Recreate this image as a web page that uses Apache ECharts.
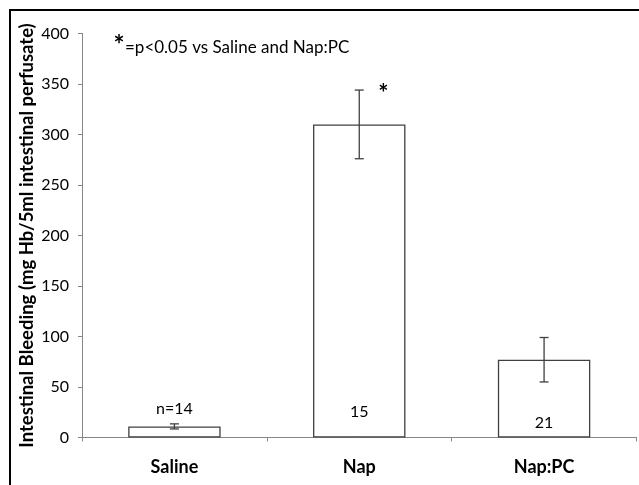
<!DOCTYPE html>
<html>
<head>
<meta charset="utf-8">
<script src="https://cdn.jsdelivr.net/npm/echarts@6/dist/echarts.min.js"></script>
<style>html,body{margin:0;padding:0;background:#fff}#c{width:639px;height:485px}</style>
</head>
<body>
<div id="c"></div>
<script>
var categories = ['Saline', 'Nap', 'Nap:PC'];
var means = [11, 310, 77];
var errors = [2.5, 34, 22];
var nLabels = ['n=14', '15', '21'];
var nLabelValues = [28, 25, 15];
var sigMarks = ['', '*', ''];
var yTicks = [0, 50, 100, 150, 200, 250, 300, 350, 400];

var FONT = 'Lato, "Liberation Sans", sans-serif';
var chart = echarts.init(document.getElementById('c'), null, {renderer: 'canvas'});

var errData = categories.map(function (c, i) { return [i, means[i], errors[i]]; });
var labData = categories.map(function (c, i) { return [i, nLabelValues[i], nLabels[i]]; });
var sigData = categories.map(function (c, i) { return [i, means[i] + errors[i], sigMarks[i]]; });

chart.setOption({
  animation: false,
  backgroundColor: '#fff',
  grid: {left: 82, top: 33.5, right: 2.5, bottom: 47.5},
  xAxis: {
    type: 'category',
    data: categories,
    axisLine: {lineStyle: {color: '#868686', width: 1}},
    axisTick: {show: true, length: 4, lineStyle: {color: '#868686'}},
    axisLabel: {color: '#000', fontFamily: FONT, fontSize: 18, fontWeight: 'bold', margin: 21}
  },
  yAxis: {
    type: 'value',
    min: yTicks[0], max: yTicks[yTicks.length - 1], interval: 50,
    name: 'Intestinal Bleeding (mg Hb/5ml intestinal perfusate)',
    nameLocation: 'middle',
    nameGap: 45,
    nameMoveOverlap: false,
    nameTextStyle: {color: '#000', fontFamily: FONT, fontSize: 18.5, fontWeight: 'bold'},
    axisLine: {show: true, lineStyle: {color: '#868686', width: 1}},
    axisTick: {show: true, length: 4, lineStyle: {color: '#868686'}},
    axisLabel: {color: '#000', fontFamily: FONT, fontSize: 16, margin: 13},
    splitLine: {show: false}
  },
  graphic: [
    {type: 'line', shape: {x1: 9, y1: 10, x2: 639, y2: 10}, style: {stroke: '#000', lineWidth: 2}, z: 100},
    {type: 'line', shape: {x1: 10, y1: 9, x2: 10, y2: 485}, style: {stroke: '#000', lineWidth: 2}, z: 100},
    {type: 'text', x: 119, y: 46, style: {text: '*', font: 'bold 26px ' + FONT, fill: '#000', textAlign: 'center', textVerticalAlign: 'middle'}},
    {type: 'text', x: 125, y: 48, style: {text: '=p<0.05 vs Saline and Nap:PC', font: '17px ' + FONT, fill: '#000', textAlign: 'left', textVerticalAlign: 'middle'}}
  ],
  series: [
    {
      type: 'bar',
      data: means,
      barWidth: '50%',
      itemStyle: {color: '#fff', borderColor: '#404040', borderWidth: 1.3},
      z: 2
    },
    {
      type: 'custom',
      data: errData,
      z: 5,
      renderItem: function (params, api) {
        var x = api.value(0), m = api.value(1), e = api.value(2);
        var top = api.coord([x, m + e]);
        var bot = api.coord([x, m - e]);
        var hw = 4.5;
        var st = {stroke: '#404040', lineWidth: 1.3};
        return {type: 'group', children: [
          {type: 'line', shape: {x1: top[0], y1: top[1], x2: bot[0], y2: bot[1]}, style: st},
          {type: 'line', shape: {x1: top[0] - hw, y1: top[1], x2: top[0] + hw, y2: top[1]}, style: st},
          {type: 'line', shape: {x1: bot[0] - hw, y1: bot[1], x2: bot[0] + hw, y2: bot[1]}, style: st}
        ]};
      }
    },
    {
      type: 'custom',
      data: labData,
      z: 6,
      renderItem: function (params, api) {
        var p = api.coord([api.value(0), api.value(1)]);
        return {type: 'text', x: p[0], y: p[1], style: {
          text: labData[params.dataIndex][2], font: '16px ' + FONT, fill: '#000',
          textAlign: 'center', textVerticalAlign: 'middle'}};
      }
    },
    {
      type: 'custom',
      data: sigData,
      z: 6,
      renderItem: function (params, api) {
        var p = api.coord([api.value(0), api.value(1)]);
        return {type: 'text', x: p[0] + 24, y: p[1] + 4, style: {
          text: sigData[params.dataIndex][2], font: 'bold 24px ' + FONT, fill: '#000',
          textAlign: 'center', textVerticalAlign: 'middle'}};
      }
    }
  ]
});
</script>
</body>
</html>
